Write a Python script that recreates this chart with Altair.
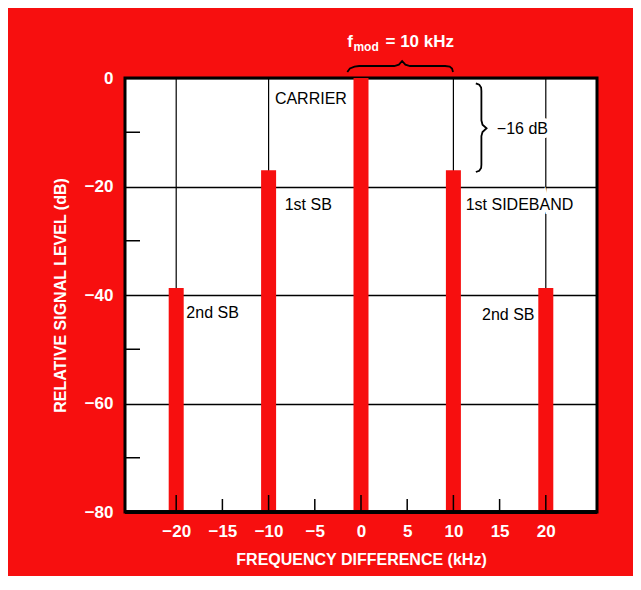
import altair as alt
import pandas as pd

# ---- data ----
freq = [-20, -10, 0, 10, 20]
level = [-38.7, -17.0, 0.0, -17.0, -38.7]

x_label_values = [-20, -15, -10, -5, 0, 5, 10, 15, 20]
y_label_values = [0, -20, -40, -60, -80]
grid_x = [-20, -10, 0, 10, 20]
major_x_ticks = [-20, -10, 0, 10, 20]
minor_x_ticks = [-15, -5, 5, 15]
minor_y_ticks = [-10, -30, -50, -70]

label_text = ["CARRIER", "1st SB", "2nd SB", "1st SIDEBAND", "2nd SB", "\u221216 dB"]
label_x = [-9.32, -8.26, -18.9, 11.33, 13.1, 14.7]
label_y = [-3.9, -23.4, -43.3, -23.4, -43.6, -9.4]
label_halo = [False, False, False, True, False, True]

title_text = ["f", "mod", "= 10 kHz"]
title_x = [-1.48, -0.82, 2.65]
title_y = [5.7, 4.95, 5.7]
title_size = [17, 12, 17]

brace_x = [12.43, 12.80, 13.0, 13.03, 13.03, 13.15, 13.59, 13.15, 13.03, 13.03, 13.0, 12.80, 12.43,
           -1.48, -1.2, -0.7, -0.2, 3.6, 4.1, 4.45, 4.8, 5.3, 9.1, 9.6, 9.85, 9.96]
brace_y = [-0.98, -1.25, -1.75, -2.4, -7.8, -8.6, -9.27, -9.95, -10.7, -16.0, -16.6, -17.1, -17.33,
           1.1, 1.75, 2.1, 2.21, 2.21, 2.45, 3.13, 2.45, 2.21, 2.21, 2.1, 1.75, 1.1]
brace_id = ["r"] * 13 + ["t"] * 13

RED = "#f70f0f"
W, H = 472, 434
AX_FONT = "Liberation Sans"

XS = alt.Scale(domain=[-25, 25], nice=False, zero=False)
YS = alt.Scale(domain=[-80, 0], nice=False, zero=False)

X_AX = alt.Axis(
    values=x_label_values, grid=False, ticks=False, tickSize=0, domain=False,
    labelColor="white", labelFont=AX_FONT, labelFontSize=17, labelFontWeight="bold",
    labelPadding=11, title="FREQUENCY DIFFERENCE (kHz)", titleColor="white",
    titleFont=AX_FONT, titleFontSize=16, titleFontWeight="bold", titlePadding=12)
Y_AX = alt.Axis(
    values=y_label_values, grid=True, gridColor="black", gridWidth=1.3, gridOpacity=1,
    ticks=False, tickSize=0, domain=False,
    labelColor="white", labelFont=AX_FONT, labelFontSize=17, labelFontWeight="bold",
    labelPadding=12, title="RELATIVE SIGNAL LEVEL (dB)", titleColor="white",
    titleFont=AX_FONT, titleFontSize=16, titleFontWeight="bold", titlePadding=16)


def X(field):
    return alt.X(field, scale=XS, axis=X_AX)


def Y(field):
    return alt.Y(field, scale=YS, axis=Y_AX)


bars_df = pd.DataFrame({"freq": freq, "level": level})
grid_df = pd.DataFrame({"gx": grid_x})
xmaj_df = pd.DataFrame({"t": major_x_ticks})
xmin_df = pd.DataFrame({"t": minor_x_ticks})
yt_df = pd.DataFrame({"t": minor_y_ticks})
lab_df = pd.DataFrame({"text": label_text, "x": label_x, "y": label_y, "halo": label_halo})
tit_df = pd.DataFrame({"text": title_text, "x": title_x, "y": title_y, "s": title_size})
br_df = pd.DataFrame({"x": brace_x, "y": brace_y, "id": brace_id, "i": list(range(len(brace_x)))})

grid = alt.Chart(grid_df).mark_rule(color="black", strokeWidth=1.2).encode(
    x=X("gx:Q"), y=alt.value(0), y2=alt.value(H),
)

bars = alt.Chart(bars_df).mark_bar(color=RED, size=15).encode(
    x=X("freq:Q"), y=Y("level:Q"), y2=alt.datum(-80),
)

xticks_major = alt.Chart(xmaj_df).mark_rule(color="black", strokeWidth=1.5).encode(
    x=X("t:Q"), y=alt.value(H), y2=alt.value(H - 17),
)

xticks_minor = alt.Chart(xmin_df).mark_rule(color="black", strokeWidth=1.5).encode(
    x=X("t:Q"), y=alt.value(H), y2=alt.value(H - 13),
)

yticks = alt.Chart(yt_df).mark_rule(color="black", strokeWidth=1.5).encode(
    y=Y("t:Q"), x=alt.value(0), x2=alt.value(15),
)

bottom_border = alt.Chart(grid_df).mark_rule(color="black", strokeWidth=3).encode(
    x=alt.value(0), x2=alt.value(W), y=alt.value(H),
)

halo = alt.Chart(lab_df).transform_filter("datum.halo").mark_text(
    align="left", baseline="middle", font=AX_FONT, fontSize=16,
    color="white", stroke="white", strokeWidth=8).encode(
    x=X("x:Q"), y=Y("y:Q"), text="text:N",
)

labels = alt.Chart(lab_df).mark_text(
    align="left", baseline="middle", font=AX_FONT, fontSize=16, color="black").encode(
    x=X("x:Q"), y=Y("y:Q"), text="text:N",
)

braces = alt.Chart(br_df).mark_line(color="black", strokeWidth=1.8).encode(
    x=X("x:Q"), y=Y("y:Q"), detail="id:N", order="i:Q",
)

title = alt.Chart(tit_df).mark_text(
    align="left", baseline="alphabetic", font=AX_FONT, fontWeight="bold", color="white").encode(
    x=X("x:Q"), y=Y("y:Q"), text="text:N",
    size=alt.Size("s:Q", scale=None, legend=None),
)

chart = alt.layer(grid, bars, xticks_major, xticks_minor, yticks, bottom_border,
                  halo, labels, braces, title).properties(
    width=W, height=H,
    autosize=alt.AutoSizeParams(type="none"),
    padding={"left": 117, "top": 70, "right": 36, "bottom": 64},
    background=RED,
).configure_view(stroke="black", strokeWidth=3, fill="white")

chart.save("out.html", embed_options={"renderer": "svg", "actions": False})
